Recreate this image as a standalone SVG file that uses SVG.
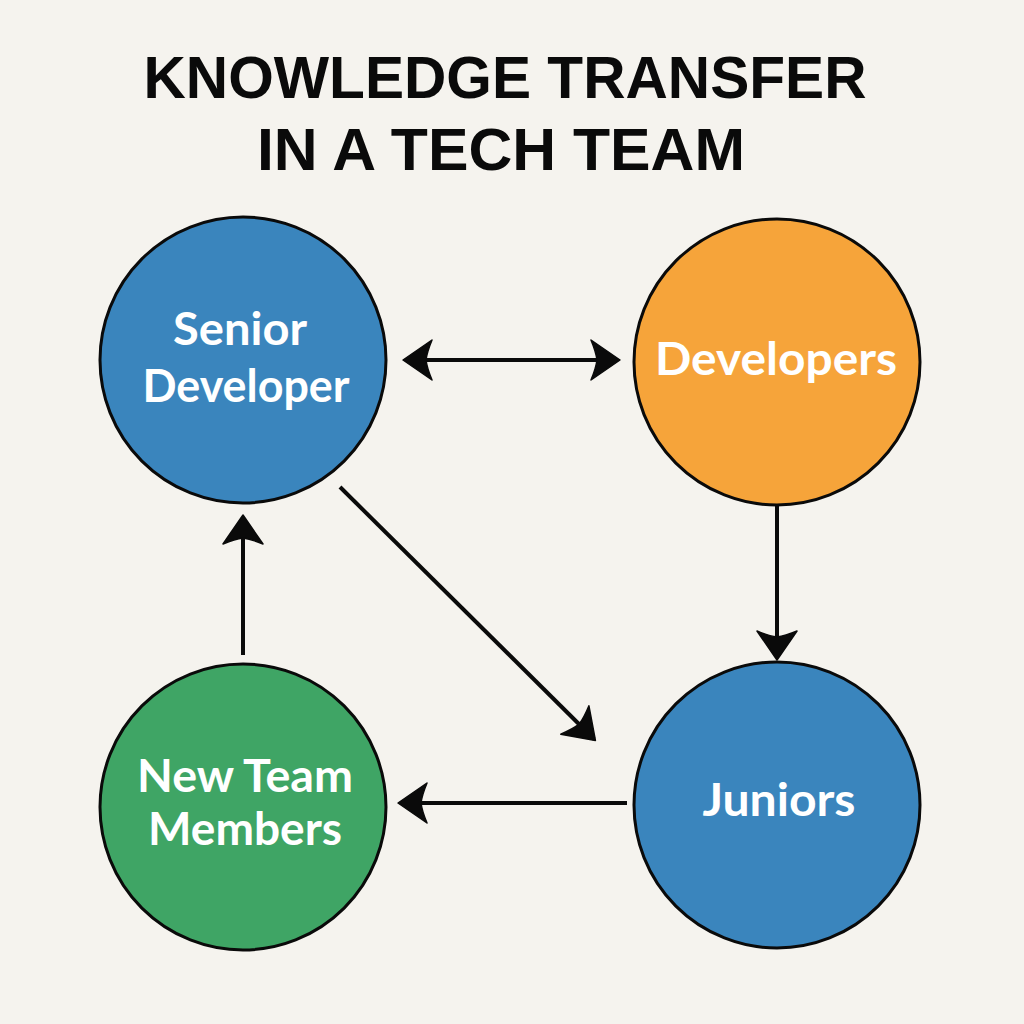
<svg xmlns="http://www.w3.org/2000/svg" width="1024" height="1024" viewBox="0 0 1024 1024">
<defs>
<style>
.title{font-family:"Liberation Sans",Arial,sans-serif;font-weight:bold;font-size:60px;fill:#0a0a0a;text-anchor:middle}
.node{stroke:#0a0a0a;stroke-width:3}
.lbl{font-family:Lato,"Open Sans",sans-serif;font-weight:bold;font-size:46px;fill:#ffffff;text-anchor:middle}
.conn{stroke:#0a0a0a;stroke-width:4;fill:none}
</style>
<marker id="ah" viewBox="-32 -24 36 48" refX="0" refY="0" markerWidth="36" markerHeight="48" markerUnits="userSpaceOnUse" orient="auto-start-reverse">
<path d="M2,0 L-27,-20 Q-22,-8 -21,0 Q-22,8 -27,20 Z" fill="#0a0a0a" stroke="#0a0a0a" stroke-width="1.5" stroke-linejoin="round"/>
</marker>
</defs>
<rect width="1024" height="1024" fill="#f5f3ee"/>
<g id="title">
<text class="title" x="505" y="98" textLength="723" lengthAdjust="spacingAndGlyphs">KNOWLEDGE TRANSFER</text>
<text class="title" x="501" y="170" textLength="488" lengthAdjust="spacingAndGlyphs">IN A TECH TEAM</text>
</g>
<g id="connectors">
<line class="conn" x1="405" y1="360" x2="618" y2="360" marker-start="url(#ah)" marker-end="url(#ah)"/>
<line class="conn" x1="777" y1="505" x2="777" y2="658" marker-end="url(#ah)"/>
<line class="conn" x1="340" y1="487" x2="594" y2="739" marker-end="url(#ah)"/>
<line class="conn" x1="627" y1="803" x2="400" y2="803" marker-end="url(#ah)"/>
<line class="conn" x1="243" y1="655" x2="243" y2="517" marker-end="url(#ah)"/>
</g>
<g id="senior-developer">
<circle class="node" cx="243" cy="360" r="143" fill="#3a85bd"/>
<text class="lbl" x="240" y="345" font-size="45" textLength="134" lengthAdjust="spacingAndGlyphs">Senior</text>
<text class="lbl" x="246" y="402" font-size="45" textLength="207" lengthAdjust="spacingAndGlyphs">Developer</text>
</g>
<g id="developers">
<circle class="node" cx="777" cy="362" r="143" fill="#f6a43a"/>
<text class="lbl" x="776" y="375" font-size="47" textLength="242" lengthAdjust="spacingAndGlyphs">Developers</text>
</g>
<g id="juniors">
<circle class="node" cx="777" cy="805" r="143" fill="#3a85bd"/>
<text class="lbl" x="779" y="816" font-size="47" textLength="153" lengthAdjust="spacingAndGlyphs">Juniors</text>
</g>
<g id="new-team-members">
<circle class="node" cx="243" cy="807" r="143" fill="#3fa565"/>
<text class="lbl" x="245" y="792" font-size="47" textLength="216" lengthAdjust="spacingAndGlyphs">New Team</text>
<text class="lbl" x="245" y="845" font-size="47" textLength="194" lengthAdjust="spacingAndGlyphs">Members</text>
</g>
</svg>
